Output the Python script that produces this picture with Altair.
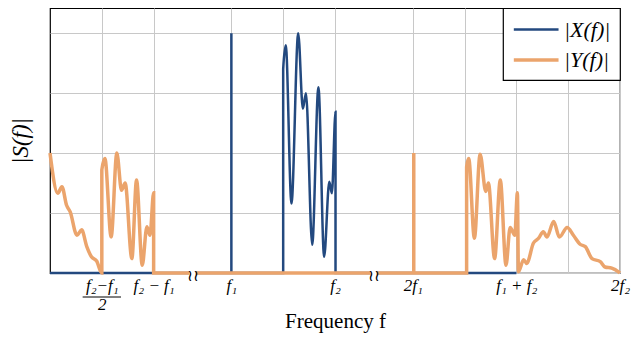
import altair as alt
import pandas as pd

# ---- data (frequency in broken-axis display units, magnitude) ----
X_F = [0, 3.5, 3.5, 3.5, 4.5, 4.5, 4.55, 4.66, 4.79, 4.88, 4.94, 5.06, 5.18, 5.29, 5.39, 5.44, 5.51, 5.51, 9.0]
X_MAG = [0, 0, 4.0, 0, 0, 3.4, 3.8, 1.16, 4.0, 2.74, 3.0, 0.47, 3.1, 0.27, 1.52, 1.33, 2.69, 0, 0]

Y_F = [0, 0.15, 0.23, 0.32, 0.39, 0.52, 0.61, 0.71, 0.80, 0.90, 1.0,
       1.0, 1.06, 1.18, 1.29, 1.38, 1.45, 1.58, 1.67, 1.78, 1.87, 1.93, 2.0, 2.0,
       7.02, 7.02, 7.02,
       8.04, 8.04, 8.08, 8.19, 8.30, 8.41, 8.46, 8.58, 8.69, 8.80, 8.88, 8.97, 9.02, 9.04,
       9.14, 9.2, 9.33, 9.43, 9.52, 9.59, 9.72, 9.83, 9.98, 10.1, 10.23, 10.33, 10.46,
       10.62, 10.71, 10.84, 10.97, 11.0]
Y_MAG = [2.0, 1.33, 1.44, 1.13, 1.02, 0.63, 0.72, 0.44, 0.27, 0.2, 0,
         1.72, 1.91, 0.6, 2.0, 1.38, 1.5, 0.24, 1.55, 0.13, 0.77, 0.63, 1.34, 0,
         0, 2.0, 0,
         0, 1.77, 1.91, 0.58, 1.98, 1.36, 1.5, 0.24, 1.55, 0.13, 0.76, 0.63, 1.34, 0.02,
         0.22, 0.16, 0.5, 0.58, 0.69, 0.6, 0.86, 0.6, 0.76, 0.63, 0.48, 0.44, 0.24,
         0.19, 0.1, 0.08, 0.02, 0]

SERIES = ["|X(f)|", "|Y(f)|"]
COLORS = ["#23497f", "#eba46c"]
WIDTHS = [2.5, 3.5]

GRID_POS = [1, 2, 3.5, 4.5, 5.5, 7, 8, 9, 10, 11]
TICK_POS = [1, 2, 3.5, 5.5, 7, 9, 11]
TICK_LABELS = ["f₂−f₁/2", "f₂ − f₁", "f₁", "f₂", "2f₁", "f₁ + f₂", "2f₂"]
Y_GRID = [0, 1, 2, 3, 4]
BREAKS = [2.75, 6.25]
FRAC_POS = 1
FRAC_HALF = 0.37

# ---- tables ----
rows = []
for i, (f, m) in enumerate(zip(X_F, X_MAG)):
    rows.append({"f": f, "mag": m, "series": SERIES[0], "idx": i})
for i, (f, m) in enumerate(zip(Y_F, Y_MAG)):
    rows.append({"f": f, "mag": m, "series": SERIES[1], "idx": i})
df = pd.DataFrame(rows)

# label expression built from tick lists
def lab(s):
    if "/" in s:
        a, b = s.split("/")
        return "['" + a + "','" + b + "']"
    return "'" + s + "'"

expr = "''"
for p, s in reversed(list(zip(TICK_POS, TICK_LABELS))):
    expr = f"datum.value == {p} ? {lab(s)} : ({expr})"

SERIF = "Liberation Serif"

xscale = alt.Scale(domain=[0, 11], nice=False, zero=False)
yscale = alt.Scale(domain=[0, 4.42], nice=False, zero=False)

lines = alt.Chart(df).mark_line(interpolate="monotone", strokeCap="butt").encode(
    x=alt.X("f:Q", scale=xscale,
            axis=alt.Axis(values=GRID_POS, labelExpr=expr, ticks=False, domain=False,
                          labelFont=SERIF, labelFontStyle="italic", labelFontSize=17,
                          labelPadding=4, labelLineHeight=19, labelColor="black",
                          labelOverlap=False, labelFlush=False,
                          gridColor="#c8c8c8", gridWidth=1,
                          title="Frequency f", titleFont=SERIF, titleFontSize=21,
                          titleFontWeight="normal", titleColor="black",
                          titleY=48, titleBaseline="middle")),
    y=alt.Y("mag:Q", scale=yscale,
            axis=alt.Axis(values=Y_GRID, labels=False, ticks=False, domain=False,
                          gridColor="#c8c8c8", gridWidth=1,
                          title="|S(f)|", titleFont=SERIF, titleFontSize=23,
                          titleFontStyle="italic", titleFontWeight="normal",
                          titleColor="black", titleX=-30, titleBaseline="middle")),
    color=alt.Color("series:N", scale=alt.Scale(domain=SERIES, range=COLORS),
                    legend=alt.Legend(title=None)),
    strokeWidth=alt.StrokeWidth("series:N", scale=alt.Scale(domain=SERIES, range=WIDTHS),
                                legend=alt.Legend(title=None)),
    order=alt.Order("idx:Q"),
)

brk = pd.DataFrame({"f": BREAKS, "mag": [0] * len(BREAKS), "sym": ["≀≀"] * len(BREAKS)})
brk_bg = alt.Chart(brk).mark_square(color="white", opacity=1, size=45, filled=True).encode(
    x=alt.X("f:Q", scale=xscale), y=alt.Y("mag:Q", scale=yscale))
brk_txt = alt.Chart(brk).mark_text(font="DejaVu Serif", fontSize=16, baseline="middle",
                                   dy=3, color="black").encode(
    x=alt.X("f:Q", scale=xscale), y=alt.Y("mag:Q", scale=yscale), text="sym:N")

frac = pd.DataFrame({"a": [FRAC_POS - FRAC_HALF], "b": [FRAC_POS + FRAC_HALF]})
frac_bar = alt.Chart(frac).mark_rule(color="black", strokeWidth=1).encode(
    x=alt.X("a:Q", scale=xscale), x2="b:Q", y=alt.value(289))

chart = alt.layer(lines, brk_bg, brk_txt, frac_bar).properties(
    width=570, height=265,
    padding={"left": 42, "top": 0, "right": 12, "bottom": 75},
    autosize=alt.AutoSizeParams(type="none"),
).configure_view(stroke="black", strokeWidth=1.2).configure_legend(
    orient="top-right", offset=0, padding=9, strokeColor="black", fillColor="white",
    strokeWidth=1.2, cornerRadius=0, labelFont=SERIF, labelFontSize=22,
    labelFontStyle="italic", labelColor="black", symbolType="M-1,0H3", symbolSize=500,
    labelOffset=26, rowPadding=6,
)

chart.save("out.html", embed_options={"renderer": "svg", "actions": False})
